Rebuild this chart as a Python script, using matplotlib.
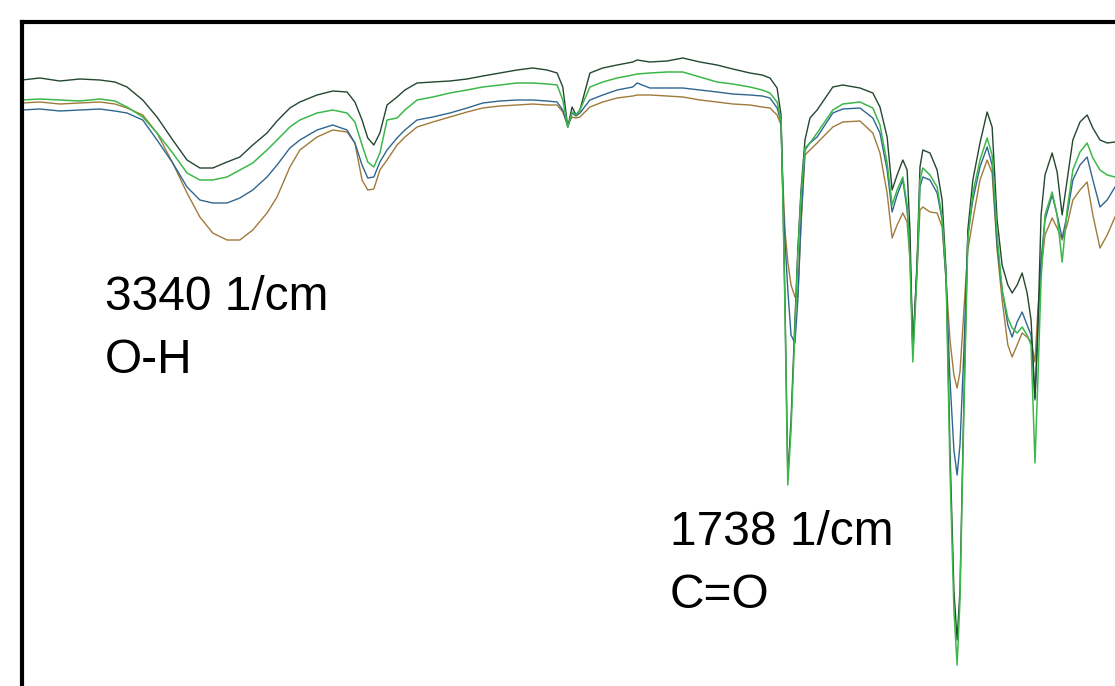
import matplotlib.pyplot as plt

# wavenumber (1/cm) and transmittance (%)
wavenumber = [3882, 3832, 3776, 3720, 3664, 3622, 3588, 3544, 3504, 3460,
              3420, 3384, 3348, 3308, 3272, 3236, 3196, 3168, 3132, 3104,
              3056, 3012, 2972, 2950, 2930, 2914, 2897, 2880, 2860, 2832,
              2810, 2776, 2732, 2684, 2636, 2592, 2544, 2496, 2452, 2412,
              2384, 2368, 2354, 2342, 2331, 2320, 2292, 2256, 2216, 2172,
              2160, 2124, 2076, 2032, 1984, 1936, 1892, 1844, 1810, 1788,
              1768, 1757, 1752, 1746, 1738, 1729, 1718, 1710, 1701, 1690,
              1676, 1656, 1612, 1584, 1536, 1500, 1480, 1460, 1446, 1432,
              1416, 1404, 1396, 1388, 1376, 1368, 1360, 1340, 1320, 1306,
              1295, 1284, 1273, 1264, 1256, 1245, 1234, 1220, 1200, 1180,
              1166, 1152, 1138, 1122, 1110, 1096, 1082, 1068, 1057, 1046,
              1038, 1029, 1018, 998, 984, 970, 956, 940, 920, 900,
              884, 864, 844, 822, 808]

dark_green = [92.0, 92.2, 91.9, 92.1, 92.0, 91.8, 91.3, 90.0, 88.3, 86.0,
              84.0, 83.2, 83.2, 83.8, 84.3, 85.5, 86.7, 87.9, 89.2, 89.8,
              90.5, 90.9, 90.8, 89.8, 88.0, 86.2, 85.5, 86.7, 89.5, 90.3,
              91.0, 91.7, 91.8, 91.9, 92.1, 92.4, 92.7, 93.0, 93.2, 93.0,
              92.7, 91.3, 87.3, 89.3, 88.5, 89.0, 92.7, 93.2, 93.5, 93.8,
              94.0, 93.8, 93.9, 94.2, 93.8, 93.5, 93.1, 92.7, 92.5, 92.2,
              91.2, 88.5, 80.7, 70.0, 52.2, 58.0, 68.0, 75.0, 81.0, 86.0,
              88.2, 89.0, 91.3, 91.5, 91.2, 90.7, 89.3, 86.3, 81.0, 82.5,
              84.0, 83.0, 77.0, 64.5, 74.0, 83.3, 85.0, 84.7, 83.0, 80.0,
              73.0, 55.0, 41.0, 36.0, 41.0, 60.0, 77.0, 82.0, 85.7, 88.8,
              87.3, 78.0, 73.5, 71.5, 70.7, 71.5, 72.7, 70.7, 68.0, 60.2,
              67.0, 78.5, 82.5, 84.7, 82.8, 78.5, 82.0, 86.0, 87.8, 88.5,
              87.2, 86.0, 85.7, 85.8, 86.0]

light_green = [90.0, 90.1, 90.0, 89.9, 90.1, 89.9, 89.3, 88.3, 86.7, 84.7,
               82.7, 82.0, 82.0, 82.3, 83.0, 83.7, 85.0, 86.0, 87.3, 88.0,
               88.7, 89.0, 88.7, 87.8, 85.5, 83.8, 83.3, 84.7, 88.0, 88.2,
               89.0, 90.0, 90.3, 90.7, 91.0, 91.3, 91.5, 91.7, 91.7, 91.6,
               91.5, 90.0, 87.3, 88.8, 88.5, 89.0, 91.3, 91.8, 92.2, 92.5,
               92.6, 92.7, 92.8, 92.8, 92.3, 91.8, 91.6, 91.3, 91.0, 90.7,
               89.8, 88.0, 80.5, 69.0, 51.5, 57.0, 67.0, 74.5, 80.5, 85.2,
               85.7, 86.7, 89.0, 89.6, 89.8, 89.2, 87.5, 83.7, 79.5, 81.0,
               82.3, 79.5, 74.0, 63.8, 73.0, 82.0, 83.2, 82.5, 81.3, 78.3,
               72.5, 53.0, 39.0, 33.5, 40.0, 59.0, 76.0, 80.7, 84.0, 86.2,
               84.5, 76.5, 71.0, 68.2, 67.2, 66.7, 67.3, 66.5, 65.5, 53.7,
               62.0, 72.0, 78.5, 80.8, 78.5, 73.8, 79.0, 83.0, 84.8, 85.7,
               84.2, 83.0, 82.5, 82.3, 82.2]

blue = [89.0, 89.1, 88.9, 89.0, 89.1, 88.9, 88.7, 88.0, 86.0, 83.7,
        81.3, 80.0, 79.7, 79.7, 80.2, 81.0, 82.3, 83.5, 85.2, 86.0,
        87.0, 87.5, 87.0, 85.7, 83.5, 82.2, 82.3, 83.8, 85.0, 86.2,
        87.0, 88.0, 88.3, 88.7, 89.2, 89.7, 89.9, 90.0, 90.0, 89.9,
        89.8, 89.0, 87.3, 88.7, 88.4, 88.7, 90.0, 90.5, 91.0, 91.3,
        91.7, 91.2, 91.2, 91.2, 91.0, 90.8, 90.6, 90.5, 90.4, 90.2,
        89.2, 87.8, 80.7, 76.0, 71.0, 66.5, 65.7, 70.0, 78.0, 85.0,
        85.7, 86.3, 88.7, 89.1, 89.2, 88.2, 86.7, 83.0, 78.8, 80.5,
        82.0, 79.0, 75.0, 65.0, 73.5, 81.3, 82.3, 82.0, 80.7, 78.0,
        72.0, 62.0, 55.0, 52.5, 55.5, 65.0, 76.5, 80.0, 83.3, 85.3,
        83.5, 75.5, 71.0, 67.5, 66.3, 67.8, 68.8, 67.5, 66.5, 60.0,
        67.0, 74.0, 78.0, 80.5, 78.5, 76.2, 78.5, 82.0, 83.5, 84.3,
        82.0, 79.3, 80.0, 81.3, 82.0]

brown = [89.7, 89.8, 89.6, 89.7, 89.8, 89.6, 89.2, 88.5, 86.7, 83.7,
         80.7, 78.3, 76.7, 76.0, 76.0, 77.0, 78.7, 80.3, 83.3, 85.0,
         86.3, 87.0, 86.8, 85.7, 82.0, 81.0, 81.1, 83.0, 84.0, 85.5,
         86.3, 87.3, 87.8, 88.3, 88.8, 89.2, 89.4, 89.5, 89.6, 89.5,
         89.5, 88.8, 87.5, 88.3, 88.2, 88.3, 89.3, 89.8, 90.2, 90.4,
         90.5, 90.5, 90.4, 90.3, 90.0, 89.8, 89.6, 89.5, 89.3, 89.2,
         88.5, 87.5, 82.0, 77.0, 73.8, 71.5, 70.3, 70.3, 77.5, 84.5,
         85.0, 85.7, 87.3, 87.8, 87.9, 86.7, 84.7, 80.7, 76.2, 77.5,
         78.7, 77.8, 74.0, 65.5, 73.0, 79.0, 79.3, 78.8, 78.7, 77.3,
         72.0, 66.0, 62.5, 61.2, 62.8, 69.0, 75.0, 78.0, 82.0, 84.0,
         82.7, 75.0, 70.0, 65.5, 64.3, 65.5, 66.7, 66.3, 65.8, 63.8,
         69.0, 73.0, 76.5, 78.2, 77.2, 76.0, 77.5, 80.0, 81.0, 81.8,
         78.5, 75.2, 76.5, 78.3, 79.5]

labels = [(3650, 69.0, "3340 1/cm"), (3650, 62.7, "O-H"),
          (2068, 45.5, "1738 1/cm"), (2068, 39.2, "C=O")]

fig = plt.figure(figsize=(11.15, 6.86), dpi=100)
# frame runs off the right and bottom of the picture, like the original crop
ax = fig.add_axes([22 / 1115, -14 / 686, 1108 / 1115, 678 / 686])

ax.plot(wavenumber, brown, color="#a07a3a", lw=1.0)
ax.plot(wavenumber, blue, color="#2f6690", lw=1.0)
ax.plot(wavenumber, dark_green, color="#24472f", lw=1.0)
ax.plot(wavenumber, light_green, color="#3cb84a", lw=1.1)

ax.set_xlim(3882, 780)
ax.set_ylim(30, 97.8)
ax.set_xticks([])
ax.set_yticks([])
for side in ["left", "top", "right", "bottom"]:
    ax.spines[side].set_linewidth(3.0)
    ax.spines[side].set_color("black")

for x, y, s in labels:
    ax.text(x, y, s, fontsize=34.5, family="Liberation Sans",
            ha="left", va="baseline", color="black")

fig.savefig("out.png", dpi=100, facecolor="white")
